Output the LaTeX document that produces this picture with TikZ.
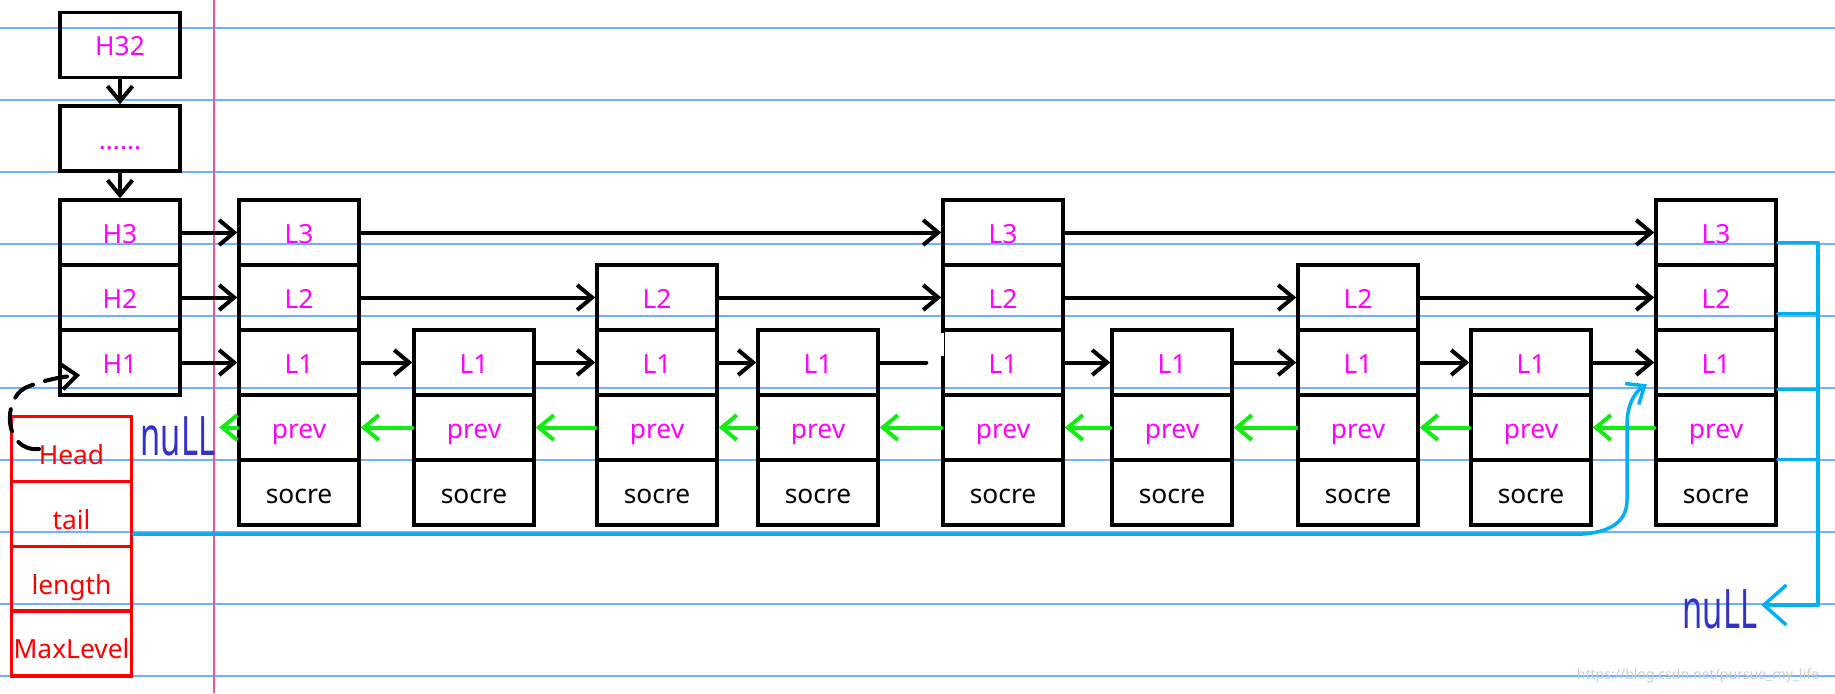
\documentclass[tikz,border=0pt]{standalone}
\usepackage{fontspec}
\setmainfont{Noto Sans}
\usetikzlibrary{arrows.meta}

\definecolor{notebook}{RGB}{110,178,250}
\definecolor{marginline}{RGB}{240,80,150}
\definecolor{keytext}{RGB}{255,0,255}
\definecolor{prevgreen}{RGB}{20,235,20}
\definecolor{tailcyan}{RGB}{0,176,240}
\definecolor{nullblue}{RGB}{50,50,200}

\tikzset{
    cell/.style={draw, line width=0.07cm, minimum width=2.4cm, minimum height=1.3cm,
        inner sep=0pt, text height=0.44cm, text depth=0pt, text=keytext,
        font=\fontsize{15}{18}\selectfont},
    field/.style={cell, draw=red, text=red, text height=0.6cm},
    nullmark/.style={text=nullblue, inner sep=2pt, font=\fontsize{31}{31}\selectfont\bfseries},
    fwd/.style={line width=0.08cm, line cap=round, -{Straight Barb[length=0.3cm, width=0.5cm]}},
    prevarrow/.style={fwd, prevgreen},
    tailptr/.style={line width=0.07cm, line cap=round, line join=round, tailcyan},
}

\begin{document}
\begin{tikzpicture}[x=0.02cm, y=-0.02cm]
    \useasboundingbox (0,0) rectangle (1835,693);

    % Notebook paper
    \foreach \y in {28,100,...,676} {
        \draw[notebook, line width=0.04cm] (0,\y) -- (1835,\y);
    }
    \draw[marginline, line width=0.03cm] (214,0) -- (214,693);

    % Head levels
    \node[cell] (h32) at (120,45) {H32};
    \node[cell] (hdots) at (120,138.5) {......};
    \node[cell] (h3) at (120,232.5) {H3};
    \node[cell] (h2) at (120,297.5) {H2};
    \node[cell] (h1) at (120,362.5) {H1};
    \draw[fwd] (h32) -- (hdots);
    \draw[fwd] (hdots) -- (h3);

    % List fields
    \node[field] (head) at (71.5,449) {Head};
    \node[field] (tail) at (71.5,514) {tail};
    \node[field] (length) at (71.5,579) {length};
    \node[field] (maxlevel) at (71.5,643.5) {MaxLevel};
    \draw[fwd, dash pattern=on 0.45cm off 0.25cm] ([xshift=-0.65cm]head.center)
        .. controls (4,452) and (2,400) .. (25,388)
        .. controls (40,381) and (60,377) .. ([shift={(-0.8cm,-0.25cm)}]h1.center);

    \node[nullmark] (nullL) at (178,436) {\scalebox{0.6}[1]{nuLL}};
    \node[nullmark] (nullR) at (1720,609) {\scalebox{0.6}[1]{nuLL}};

    % Skip list nodes
    \foreach \k/\px/\lv in {1/299/3, 2/474/1, 3/657/2, 4/818/1, 5/1003/3,
                            6/1172/1, 7/1358/2, 8/1531/1, 9/1716/3} {
        \foreach \j in {1,...,\lv} {
            \node[cell] (c\k-l\j) at (\px, {362.5-65*(\j-1)}) {L\j};
        }
        \node[cell] (c\k-prev) at (\px,427.5) {prev};
        \node[cell, text=black] (c\k-socre) at (\px,492.5) {socre};
    }

    % Level pointers
    \foreach \a/\b in {h3/c1-l3, c1-l3/c5-l3, c5-l3/c9-l3,
                       h2/c1-l2, c1-l2/c3-l2, c3-l2/c5-l2, c5-l2/c7-l2, c7-l2/c9-l2,
                       h1/c1-l1, c1-l1/c2-l1, c2-l1/c3-l1, c3-l1/c4-l1,
                       c5-l1/c6-l1, c6-l1/c7-l1, c7-l1/c8-l1, c8-l1/c9-l1} {
        \draw[fwd] (\a) -- (\b);
    }
    \draw[fwd, -] (c4-l1) -- ([xshift=-0.3cm]c5-l1.west);
    \draw[white, line width=0.1cm] ([yshift=-0.1cm]c5-l1.north west) -- ([yshift=-0.55cm]c5-l1.north west);

    % prev pointers
    \foreach \k/\p in {2/1, 3/2, 4/3, 5/4, 6/5, 7/6, 8/7, 9/8} {
        \draw[prevarrow] (c\k-prev) -- (c\p-prev);
    }
    \draw[prevarrow] (c1-prev) -- (c1-prev -| nullL.east);

    % tail pointer
    \draw[tailptr, -{Straight Barb[length=0.3cm, width=0.5cm]}] ([yshift=-0.4cm]tail.east)
        -- (1583,534) .. controls (1610,532) and (1627,522) .. (1627,500) -- (1627,425)
        .. controls (1627,400) and (1638,390) .. ([shift={(-0.15cm,0.25cm)}]c9-l1.south west);

    % Last node to null
    \coordinate (bus end) at (1818,605);
    \foreach \r/\s in {l3/-0.2cm, l2/-0.32cm, l1/-0.54cm, prev/-0.64cm} {
        \draw[tailptr] ([yshift=\s]c9-\r.east) -| (bus end);
    }
    \draw[tailptr, -{Straight Barb[length=0.45cm, width=0.8cm]}] (bus end) -- (bus end -| nullR.east);

    \node[text=gray!40, font=\fontsize{8}{9}\selectfont] (mark) at (1698,676) {https://blog.csdn.net/pursue\_my\_life};
\end{tikzpicture}
\end{document}
